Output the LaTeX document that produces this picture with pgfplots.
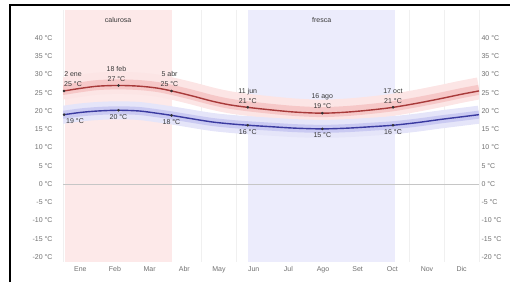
\documentclass[border=0pt]{standalone}
\usepackage{pgfplots}
\pgfplotsset{compat=1.18}
\usepackage{pgfplotstable}
\usepackage{fontspec}
\setmainfont{Liberation Sans}
\definecolor{hotbg}{HTML}{FDE9E9}
\definecolor{coolbg}{HTML}{ECECFC}
\definecolor{hiline}{HTML}{A83A3A}
\definecolor{loline}{HTML}{3A3AA0}
\definecolor{hiband1}{HTML}{FCE5E5}
\definecolor{hiband2}{HTML}{F6C8C8}
\definecolor{loband1}{HTML}{E5E5F9}
\definecolor{loband2}{HTML}{CACAF2}
\definecolor{ticktxt}{HTML}{707070}
\definecolor{anntxt}{HTML}{383838}

\pgfplotstableread{
x    hi   lo
0.00 25.5 19.0
0.03 25.5 19.0
0.50 26.2 19.6
1.00 26.8 20.0
1.60 27.0 20.2
2.20 26.8 20.0
2.70 26.3 19.4
3.13 25.5 18.8
3.70 24.2 17.9
4.30 22.7 17.0
4.80 21.7 16.5
5.33 21.0 16.1
6.00 20.3 15.7
6.70 19.7 15.3
7.48 19.4 15.1
8.20 19.7 15.3
8.90 20.3 15.7
9.52 21.0 16.1
10.20 22.1 16.8
10.90 23.4 17.7
11.50 24.6 18.4
12.00 25.5 19.0
}\temps

\begin{document}
\begin{tikzpicture}[x=1pt,y=1pt]
\useasboundingbox (0,0) rectangle (520,282);
\draw[line width=1.5pt] (10,0) -- (10,277) -- (510,277);
\begin{axis}[
  at={(63pt,20pt)}, anchor=south west, scale only axis,
  width=416pt, height=252pt,
  xmin=0, xmax=12, ymin=-21.37, ymax=47.67,
  axis line style={draw=none},
  major tick length=0pt, minor tick length=0pt,
  xtick={0.5,1.5,2.5,3.5,4.5,5.5,6.5,7.5,8.5,9.5,10.5,11.5},
  xticklabels={Ene,Feb,Mar,Abr,May,Jun,Jul,Ago,Set,Oct,Nov,Dic},
  minor xtick={0,1,2,3,4,5,6,7,8,9,10,11,12},
  xminorgrids, minor grid style={gray!12},
  ytick={-20,-15,-10,-5,0,5,10,15,20,25,30,35,40},
  yticklabels={-20 °C,-15 °C,-10 °C,-5 °C,0 °C,5 °C,10 °C,15 °C,20 °C,25 °C,30 °C,35 °C,40 °C},
  yticklabel pos=left,
  tick label style={font=\fontsize{7}{8}\selectfont, text=ticktxt},
  xticklabel style={yshift=-1pt},
  yticklabel style={xshift=-7pt},
  clip=true,
]
% season backgrounds
\addplot[draw=none, fill=hotbg] coordinates {(0.06,-21.37) (3.14,-21.37) (3.14,47.67) (0.06,47.67)} -- cycle;
\addplot[draw=none, fill=coolbg] coordinates {(5.34,-21.37) (9.58,-21.37) (9.58,47.67) (5.34,47.67)} -- cycle;
% zero line
\addplot[gray!45, line width=0.6pt] coordinates {(0,0) (12,0)};
% bands
\addplot[smooth, line width=22pt, hiband1] table[x=x, y expr=\thisrow{hi}+0.7]{\temps};
\addplot[smooth, line width=10pt, hiband2] table[x=x, y expr=\thisrow{hi}+0.3]{\temps};
\addplot[smooth, line width=18pt, loband1] table[x=x, y=lo]{\temps};
\addplot[smooth, line width=8pt, loband2] table[x=x, y=lo]{\temps};
% lines
\addplot[smooth, line width=1.4pt, hiline] table[x=x, y=hi]{\temps};
\addplot[smooth, line width=1.4pt, loline] table[x=x, y=lo]{\temps};
% markers
\addplot[only marks, mark=*, mark size=1.1pt, black!80] coordinates {(0.03,25.5) (1.6,27.0) (3.13,25.5) (5.33,21.0) (7.48,19.4) (9.52,21.0)};
\addplot[only marks, mark=*, mark size=1.1pt, black!80] coordinates {(0.03,19.0) (1.6,20.2) (3.13,18.8) (5.33,16.1) (7.48,15.1) (9.52,16.1)};
% season labels
\node[font=\fontsize{7}{8}\selectfont, text=anntxt] at (axis cs:1.59,45) {calurosa};
\node[font=\fontsize{7}{8}\selectfont, text=anntxt] at (axis cs:7.46,45) {fresca};
% annotations
\tikzset{ann/.style={font=\fontsize{7}{10}\selectfont, text=anntxt, align=center, inner sep=0pt}}
\node[ann, anchor=south west] at ([yshift=4pt]axis cs:0.03,25.5) {2 ene\\25 °C};
\node[ann, anchor=south] at ([yshift=4pt,xshift=-2pt]axis cs:1.6,27.0) {18 feb\\27 °C};
\node[ann, anchor=south] at ([yshift=4pt,xshift=-2pt]axis cs:3.13,25.5) {5 abr\\25 °C};
\node[ann, anchor=south] at ([yshift=4pt]axis cs:5.33,21.0) {11 jun\\21 °C};
\node[ann, anchor=south] at ([yshift=4pt]axis cs:7.48,19.4) {16 ago\\19 °C};
\node[ann, anchor=south] at ([yshift=4pt]axis cs:9.52,21.0) {17 oct\\21 °C};
\node[ann, anchor=north west] at ([yshift=-4pt,xshift=2pt]axis cs:0.03,19.0) {19 °C};
\node[ann, anchor=north] at ([yshift=-4pt]axis cs:1.6,20.2) {20 °C};
\node[ann, anchor=north] at ([yshift=-4pt]axis cs:3.13,18.8) {18 °C};
\node[ann, anchor=north] at ([yshift=-4pt]axis cs:5.33,16.1) {16 °C};
\node[ann, anchor=north] at ([yshift=-4pt]axis cs:7.48,15.1) {15 °C};
\node[ann, anchor=north] at ([yshift=-4pt]axis cs:9.52,16.1) {16 °C};
\end{axis}
\begin{axis}[
  at={(63pt,20pt)}, anchor=south west, scale only axis,
  width=416pt, height=252pt,
  xmin=0, xmax=12, ymin=-21.37, ymax=47.67,
  axis line style={draw=none},
  major tick length=0pt,
  xtick=\empty,
  ytick={-20,-15,-10,-5,0,5,10,15,20,25,30,35,40},
  yticklabels={-20 °C,-15 °C,-10 °C,-5 °C,0 °C,5 °C,10 °C,15 °C,20 °C,25 °C,30 °C,35 °C,40 °C},
  yticklabel pos=right,
  tick label style={font=\fontsize{7}{8}\selectfont, text=ticktxt},
  yticklabel style={xshift=-1pt},
]
\addplot[draw=none] coordinates {(0,0)};
\end{axis}
\end{tikzpicture}
\end{document}
